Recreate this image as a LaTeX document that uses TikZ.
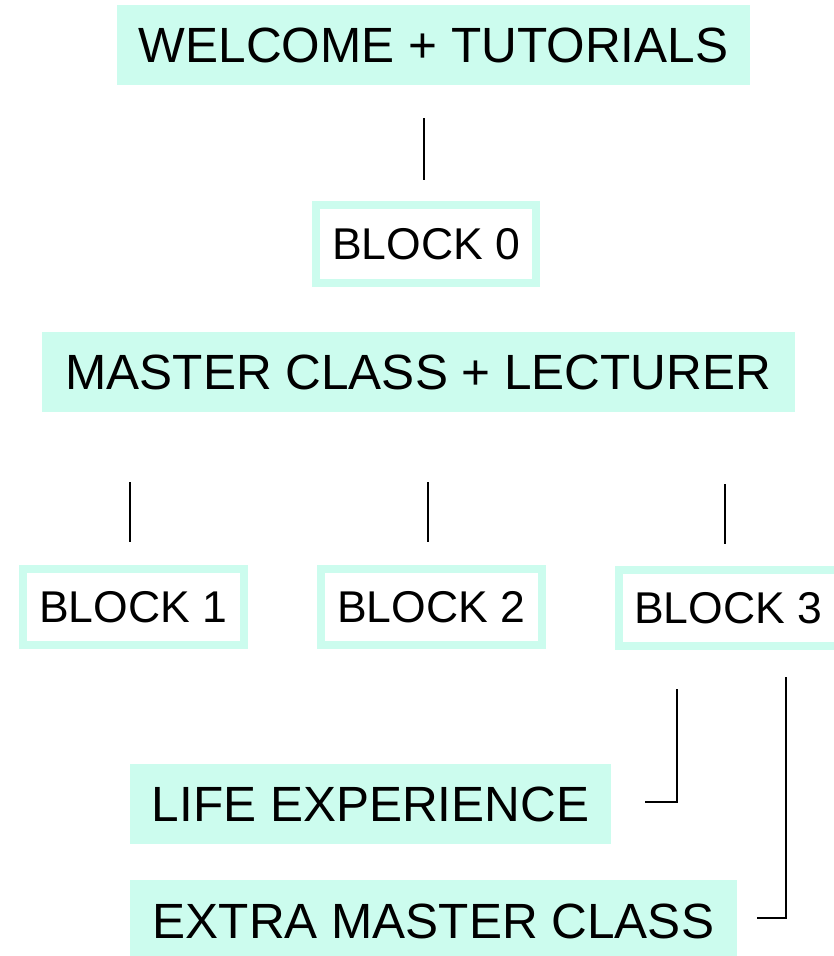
\documentclass[tikz,border=0pt]{standalone}
\usepackage{fontspec}
\setmainfont{Liberation Sans}
\definecolor{mint}{RGB}{204,252,238}
\begin{document}
\begin{tikzpicture}[x=1pt,y=-1pt,
  bigbox/.style={fill=mint,inner sep=0pt,font=\fontsize{49.5}{50}\selectfont},
  blockbox/.style={draw=mint,line width=8pt,fill=white,inner sep=0pt,outer sep=0pt,
     font=\fontsize{44.5}{45}\selectfont,minimum width=221pt,minimum height=76pt},
  link/.style={draw=black,line width=1.8pt}]
\useasboundingbox (0,0) rectangle (834,956);
\node[bigbox,minimum width=633pt,minimum height=80pt] (wel) at (433.5,45) {WELCOME + TUTORIALS};
\node[blockbox,minimum width=220pt,minimum height=78pt] (b0) at (426,244) {BLOCK 0};
\node[bigbox,minimum width=753pt,minimum height=80pt] (mc) at (418.5,372) {MASTER CLASS + LECTURER};
\node[blockbox] (b1) at (133,607) {BLOCK 1};
\node[blockbox] (b2) at (431,607) {BLOCK 2};
\node[blockbox,minimum width=232pt] (b3) at (735,608) {\hspace*{-14pt}BLOCK 3};
\node[bigbox,minimum width=481pt,minimum height=80pt] (life) at (370.5,804) {LIFE EXPERIENCE};
\node[bigbox,minimum width=607pt,minimum height=82pt] (extra) at (433.5,921) {EXTRA MASTER CLASS};
\coordinate (t0a) at (424,118); \coordinate (t0b) at (424,180);
\coordinate (t1a) at (130,482); \coordinate (t1b) at (130,542);
\coordinate (t2a) at (428,482); \coordinate (t2b) at (428,542);
\coordinate (t3a) at (725,484); \coordinate (t3b) at (725,544);
\coordinate (l1a) at (677,689); \coordinate (l1b) at (645,802);
\coordinate (l2a) at (786,677); \coordinate (l2b) at (757,918);
\draw[link] (t0a) -- (t0b);
\draw[link] (t1a) -- (t1b);
\draw[link] (t2a) -- (t2b);
\draw[link] (t3a) -- (t3b);
\draw[link] (l1a) |- (l1b);
\draw[link] (l2a) |- (l2b);
\end{tikzpicture}
\end{document}
